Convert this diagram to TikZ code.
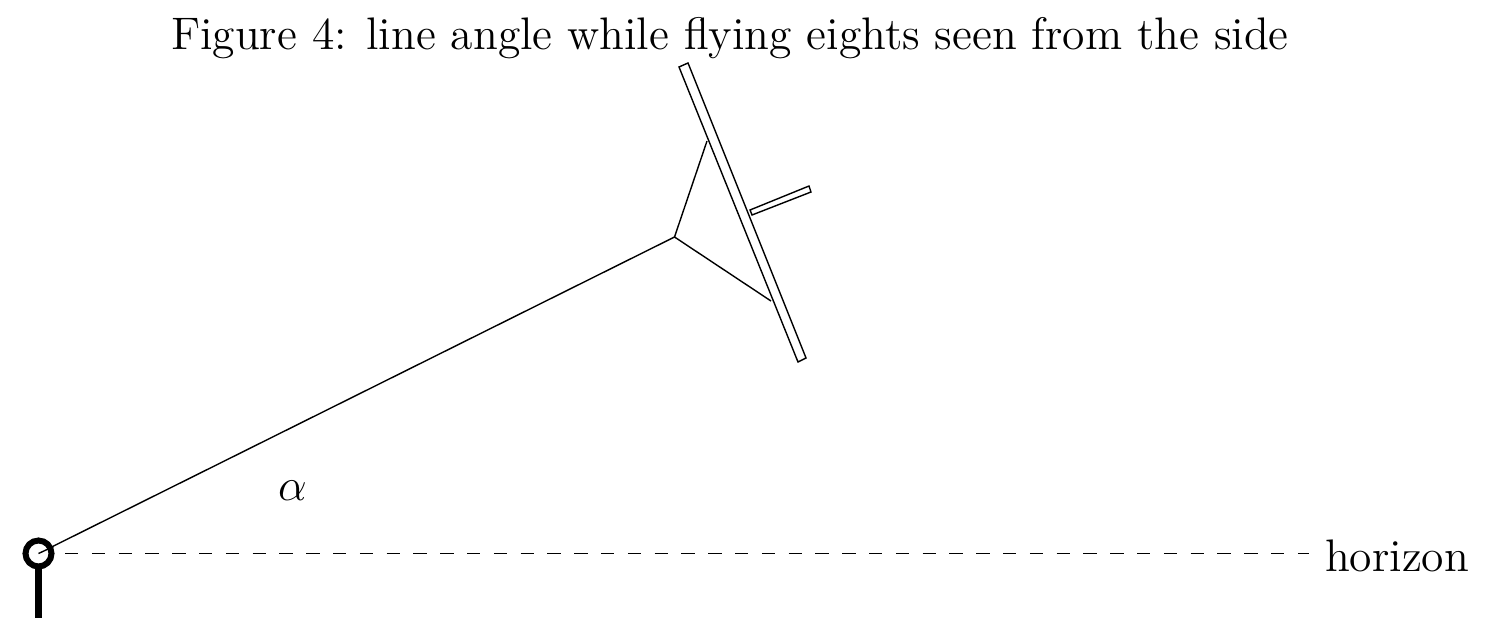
\documentclass[tikz,border=0pt]{standalone}
\usepackage{amsmath, amssymb}
\usetikzlibrary{positioning, calc}

\begin{document}
\begin{tikzpicture}[x=1pt, y=-1pt, every node/.style={inner sep=0pt, outer sep=0pt}]
% styles
\tikzstyle{plank} = [draw, line width=1.4pt, fill=white]
\tikzstyle{line} = [draw, line width=1.4pt]
\tikzstyle{label} = [font=\fontsize{12}{14}\selectfont, scale=3.8]

\useasboundingbox (0,0) rectangle (1485,632);

% pilot and horizon
\coordinate (pilot) at (38.5,553.5);
\coordinate (feet) at (38.5,618);
\coordinate (bridle) at (674.5,237);
\coordinate (upper) at (707,141);
\coordinate (lower) at (771,301);
\node [label, anchor=east] (horizon) at (1469,555.5) {horizon};
\path [line, line width=1.7pt, dash pattern=on 13.3pt off 13.5pt, dash phase=-26.5pt, shorten >=16pt] (pilot) -- (horizon.west |- pilot);
\path [line] (bridle) -- (pilot);
\path [draw, line width=6.3pt] (pilot) -- (feet);
\node [circle, draw, line width=6pt, fill=white, minimum size=26pt] (head) at (pilot) {};
\path [line] (pilot) -- ++(15,-7);

% kite
\path [plank] (679,67) -- (688,63) -- (806,358) -- (798,362) -- cycle;
\path [plank] (750,210) -- (809,186) -- (811,192) -- (752,215) -- cycle;
\path [line] (upper) -- (bridle) -- (lower);

% labels
\node [label] (angle) at (292.5,491) {$\alpha$};
\node [label] (caption) at (730,38) {Figure 4: line angle while flying eights seen from the side};
\end{tikzpicture}
\end{document}
